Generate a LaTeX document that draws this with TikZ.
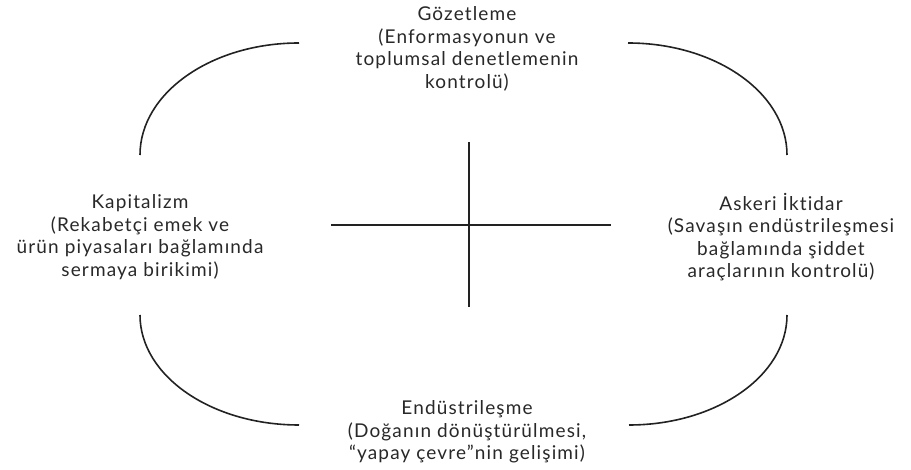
\documentclass[tikz,border=0pt]{standalone}
\usepackage{fontspec}
\setmainfont{Lato}[LetterSpace=6, Ligatures=NoCommon]
\usepackage{tikz}
\usetikzlibrary{positioning}
\definecolor{inkgrey}{RGB}{34,34,34}
\definecolor{textgrey}{RGB}{40,40,40}

\begin{document}
\begin{tikzpicture}[
    x=1pt, y=1pt,
    dimension/.style={align=center, inner sep=0pt, text=textgrey,
        font=\fontsize{19}{22.5}\selectfont},
    rim/.style={inkgrey, line width=1.6pt},
    axis/.style={inkgrey, line width=1.4pt},
]
    \useasboundingbox (0,0) rectangle (911,470);
    % four institutional dimensions
    \node[dimension] (gozetleme) at (467,421) {Gözetleme\\(Enformasyonun ve\\toplumsal denetlemenin\\kontrolü)};
    \node[dimension] (kapitalizm) at (140,233) {Kapitalizm\\(Rekabetçi emek ve\\ürün piyasaları bağlamında\\sermaya birikimi)};
    \node[dimension] (askeri) at (781,233) {Askeri İktidar\\(Savaşın endüstrileşmesi\\bağlamında şiddet\\araçlarının kontrolü)};
    \node[dimension] (endustri) at (467,38) {Endüstrileşme\\(Doğanın dönüştürülmesi,\\“yapay çevre”nin gelişimi)};
    % arcs between the dimensions
    \coordinate (tl) at (140,315);
    \coordinate (tr) at (628,427);
    \coordinate (bl) at (140,155);
    \coordinate (br) at (629,45);
    \draw[rim] (tl) arc[start angle=180, end angle=90, x radius=159, y radius=112];
    \draw[rim] (tr) arc[start angle=90, end angle=0, x radius=159, y radius=112];
    \draw[rim] (bl) arc[start angle=180, end angle=270, x radius=159, y radius=110];
    \draw[rim] (br) arc[start angle=270, end angle=360, x radius=158, y radius=110];
    % central cross
    \coordinate (crossW) at (331,245);
    \coordinate (crossE) at (611,245);
    \coordinate (crossN) at (469,328);
    \coordinate (crossS) at (469,163);
    \draw[axis] (crossW) -- (crossE);
    \draw[axis, line width=2.4pt] (crossN) -- (crossS);
\end{tikzpicture}
\end{document}
